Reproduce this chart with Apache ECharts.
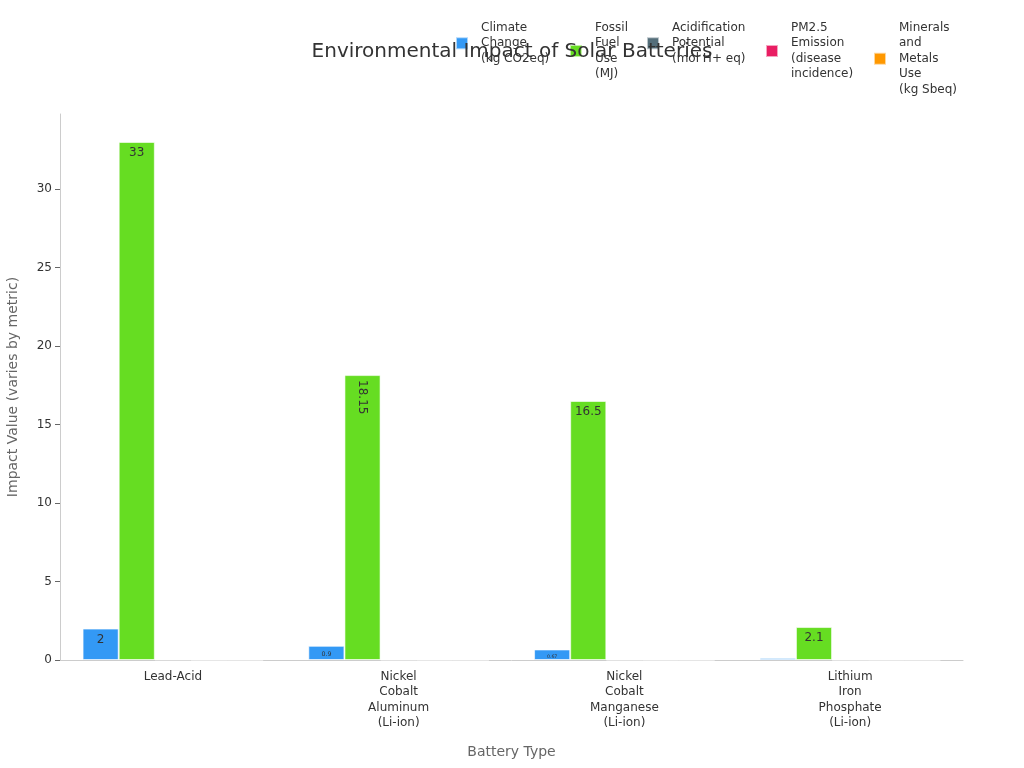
<!DOCTYPE html>
<html>
<head>
<meta charset="utf-8">
<script src="https://cdn.jsdelivr.net/npm/echarts@6/dist/echarts.min.js"></script>
<style>html,body{margin:0;padding:0;background:#fff}#c{width:1024px;height:768px}</style>
</head>
<body>
<div id="c"></div>
<script>
const categories = ['Lead-Acid', 'Nickel\nCobalt\nAluminum\n(Li-ion)', 'Nickel\nCobalt\nManganese\n(Li-ion)', 'Lithium\nIron\nPhosphate\n(Li-ion)'];
const seriesNames = ['Climate\nChange\n(kg CO2eq)', 'Fossil\nFuel\nUse\n(MJ)', 'Acidification\nPotential\n(mol H+ eq)', 'PM2.5\nEmission\n(disease\nincidence)', 'Minerals\nand\nMetals\nUse\n(kg Sbeq)'];
const climateChange = [2, 0.9, 0.67, 0.13];
const fossilFuel = [33, 18.15, 16.5, 2.1];
const acidification = [0.03, 0.015, 0.012, 0.008];
const pm25 = [0.0000015, 0.0000008, 0.0000007, 0.0000002];
const minerals = [0.0003, 0.0005, 0.0004, 0.0001];
const colors = ['#3399f5', '#66dd22', '#546e7a', '#e91e63', '#ff9800'];

// layout only: left edge of each legend entry
const legendLefts = [455, 569, 646, 765, 873];

const allSeries = [climateChange, fossilFuel, acidification, pm25, minerals];

function makeData(vals) {
  return vals.map(v => {
    const fs = Math.min(12, v * 7);
    const txt = String(v);
    if (fs < 1.5) return { value: v, label: { show: false } };
    if (txt.length >= 5) {
      return { value: v, label: { show: true, position: 'insideTop', rotate: -90, align: 'left', verticalAlign: 'middle', distance: 5, fontSize: fs } };
    }
    return { value: v, label: { show: true, position: 'insideTop', distance: 5, fontSize: fs } };
  });
}

const FONT = 'DejaVu Sans';
const chart = echarts.init(document.getElementById('c'));
chart.setOption({
  animation: false,
  color: colors,
  textStyle: { fontFamily: FONT },
  title: {
    text: 'Environmental Impact of Solar Batteries',
    left: 'center',
    top: 37,
    textStyle: { fontSize: 20, fontWeight: 'normal', color: '#333', fontFamily: FONT }
  },
  legend: seriesNames.map((n, i) => ({
    top: 20,
    left: legendLefts[i],
    padding: 0,
    icon: 'rect',
    itemWidth: 12,
    itemHeight: 12,
    textStyle: { fontSize: 12, color: '#333', lineHeight: 15.5, padding: [0, 0, 0, 8], fontFamily: FONT },
    data: [n]
  })),
  grid: { left: 60, right: 61, top: 114, bottom: 108, outerBoundsMode: 'none', containLabel: false },
  xAxis: {
    type: 'category',
    data: categories,
    name: 'Battery Type',
    nameLocation: 'middle',
    nameGap: 85,
    nameTextStyle: { fontSize: 14, color: '#666' },
    axisLine: { lineStyle: { color: '#ccc' } },
    axisTick: { alignWithLabel: true, length: 5, lineStyle: { color: '#666' } },
    axisLabel: { color: '#333', fontSize: 12, lineHeight: 15.5, margin: 9 }
  },
  yAxis: {
    type: 'value',
    min: 0,
    max: v => v.max * 1.054,
    interval: 5,
    name: 'Impact Value (varies by metric)',
    nameLocation: 'middle',
    nameGap: 40,
    nameTextStyle: { fontSize: 14, color: '#666' },
    axisLine: { show: true, lineStyle: { color: '#ccc' } },
    axisTick: { show: true, length: 5, lineStyle: { color: '#666' } },
    splitLine: { show: false },
    axisLabel: { color: '#333', fontSize: 12, showMaxLabel: false }
  },
  series: allSeries.map((vals, i) => ({
    name: seriesNames[i],
    type: 'bar',
    barGap: '0%',
    barCategoryGap: '20%',
    itemStyle: { borderColor: 'rgba(255,255,255,0.6)', borderWidth: 1 },
    label: { color: '#333' },
    data: makeData(vals)
  }))
});
</script>
</body>
</html>
